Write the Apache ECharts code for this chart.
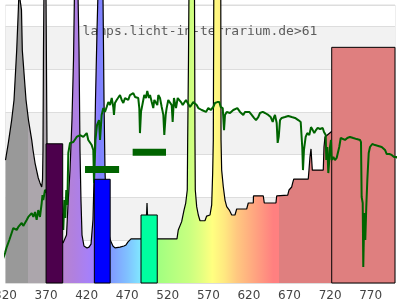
<!DOCTYPE html>
<html><head><meta charset="utf-8">
<script src="https://cdn.jsdelivr.net/npm/echarts@6/dist/echarts.min.js"></script>
<style>html,body{margin:0;padding:0;background:#fff}#c{width:400px;height:300px}</style>
</head><body><div id="c"></div>
<script>
const titleText = 'lamps.licht-in-terrarium.de>61';
const xTicks = [320,370,420,470,520,570,620,670,720,770];

// lamp spectrum (black outline, coloured fill)
const specX = [320,323.5,327.6,330.5,333.8,335.8,336.6,338.7,339.7,340.7,
345.3,348.3,352.3,353.9,356.4,360.4,362.5,364.6,365.6,366.2,
366.8,367.4,369.9,371.1,374.8,381.0,387.2,390.9,393.3,395.2,
397.0,399.5,401.9,403.8,405.0,409.3,410.6,411.8,413.0,414.3,
416.7,420.4,422.9,425.4,427.8,429.7,430.9,432.8,434.0,440.1,
441.4,442.6,443.8,446.3,449.1,450.0,452.4,454.9,461.1,466.0,
468.5,471.0,474.7,492.5,493.8,494.4,495.0,496.8,531.3,532.9,
537.1,540.0,542.1,544.0,544.5,545.5,546.1,552.9,553.5,553.9,
555.6,557.6,559.7,565.8,567.9,572.0,574.1,575.3,576.1,576.7,
585.3,585.6,586.4,588.4,590.5,592.6,595.8,598.8,602.8,604.9,
617.2,619.2,625.4,625.6,637.7,638.9,653.3,654.2,667.8,669.4,
672.7,673.9,675.2,693.1,694.0,695.2,696.5,697.7,698.1,711.6,
712.5,713.7,721.1,732.2,800];
const specY = [57.5,65.5,76.2,85.6,108.9,127.7,136.1,136.1,127.7,108.9,
85.6,76.2,66.9,62.2,56.1,49.1,46.8,44.9,48.2,62.2,
108.9,136.1,136.1,65.5,38.8,27.1,21.0,18.7,19.2,22.4,
36.5,52.8,76.2,104.3,136.1,136.1,108.9,62.2,38.8,22.4,
17.3,16.4,16.8,18.2,29.5,57.5,85.6,118.3,136.1,136.1,
85.6,52.8,38.8,24.8,20.1,19.2,17.3,16.4,16.8,17.3,
17.8,19.2,20.6,20.6,31.8,37.4,31.8,20.6,20.6,24.8,
28.7,34.1,37.4,43.5,66.9,104.3,136.1,136.1,66.9,43.5,
35.7,31.8,29.1,29.1,31.3,31.8,36.5,51.4,66.9,136.1,
136.1,66.9,52.8,45.0,38.8,35.7,34.1,31.8,31.8,34.6,
34.6,37.4,37.4,40.7,40.7,37.4,37.4,40.7,41.1,43.5,
44.9,46.8,48.6,48.6,52.8,58.9,62.7,62.7,52.8,52.8,
63.6,68.3,70.6,73.9,76.2];

// reference (sun) curve, green
const sunX = [313.2,316.5,319.4,321.5,324.7,327.6,329.6,331.7,333.8,335.8,
337.9,340.0,341.9,344.0,346.1,348.1,350.2,352.3,354.3,356.4,
358.4,360.4,362.5,364.6,365.6,366.6,368.7,374.8,382.2,389.6,
391.2,392.5,393.7,394.9,396.2,397.4,399.5,403.6,407.7,411.8,
415.9,420.1,422.0,426.2,428.2,429.1,430.9,432.8,435.2,436.5,
438.5,440.5,442.6,444.7,446.7,448.8,450.9,452.8,453.7,454.9,
457.0,459.0,461.1,463.2,465.2,467.3,469.4,471.3,473.4,475.5,
477.5,479.6,481.7,483.6,484.9,485.7,487.0,489.1,491.0,493.1,
494.7,496.8,498.1,500.2,502.1,503.4,505.5,507.1,508.3,510.4,
512.5,514.5,515.7,517.4,518.6,520.6,522.7,524.8,526.0,527.6,
530.1,532.2,534.2,536.3,538.4,540.3,542.4,544.5,547.4,551.4,
555.6,557.6,559.7,561.8,563.7,567.1,569.9,572.9,576.1,578.2,
581.0,583.5,585.2,587.7,589.3,590.5,592.6,596.7,600.7,602.8,
605.7,609.0,613.0,615.1,617.2,620.4,623.4,626.2,628.7,631.5,
633.6,637.0,639.8,643.8,646.8,649.3,650.9,652.1,654.2,655.4,
656.7,658.3,660.4,662.3,664.4,668.5,672.7,676.8,680.8,683.8,
685.7,686.6,687.8,689.9,691.9,694.4,696.5,698.6,700.5,702.6,
704.7,707.6,710.9,712.5,714.6,715.3,716.6,717.8,719.0,719.9,
721.1,722.0,724.0,726.0,728.1,730.1,731.3,733.1,735.5,738.4,
741.2,744.5,748.6,752.8,756.9,758.1,758.9,760.2,760.9,762.2,
763.4,764.6,765.9,767.6,769.2,772.0,775.4,779.4,783.6,787.7,
789.8,793.0,795.9,798.8,802.1,805.0];
const sunY = [7.0,10.8,14.0,16.8,20.1,23.4,25.7,26.2,24.8,26.2,
27.1,28.1,26.7,28.1,29.5,30.9,31.8,32.7,30.9,33.2,
29.5,34.1,30.9,37.4,41.1,38.8,43.5,41.1,38.8,31.8,
24.8,38.8,30.4,43.5,36.5,60.8,65.5,65.9,68.3,69.2,
68.3,70.1,66.9,64.5,62.2,46.8,66.9,73.9,76.2,66.9,
78.6,81.8,80.0,82.3,84.6,83.2,86.5,82.3,78.6,84.2,
85.6,86.5,87.9,85.6,84.2,86.5,87.0,85.6,87.9,88.4,
88.8,87.0,87.9,86.5,81.8,70.1,80.0,84.2,87.9,86.5,
89.8,86.5,87.9,84.6,81.8,85.6,86.5,83.2,87.9,86.5,
82.3,78.6,69.2,78.6,81.8,85.6,86.5,83.2,75.3,86.5,
81.8,86.5,87.0,84.6,83.2,82.3,85.6,84.2,82.3,84.6,
83.2,81.8,82.3,80.9,81.8,80.0,81.8,80.9,82.3,84.2,
84.6,84.6,82.3,81.8,71.5,78.6,80.0,79.5,80.9,81.8,
81.8,80.0,78.6,80.0,80.4,80.0,78.6,77.2,76.2,77.6,
79.5,80.0,79.5,78.6,77.6,75.3,77.6,78.6,74.8,65.5,
68.3,76.2,77.2,76.7,77.6,78.1,77.6,77.2,76.2,75.3,
63.6,52.8,62.2,68.3,70.1,69.2,72.9,71.5,70.1,71.5,
72.5,72.0,72.5,70.6,69.2,57.5,63.6,51.4,57.5,63.6,
66.9,57.5,58.9,57.5,58.5,58.9,63.6,67.8,66.9,66.9,
67.8,68.3,67.8,67.3,66.9,65.9,40.2,37.4,7.5,32.7,
20.1,35.5,48.2,60.8,63.6,65.0,64.5,64.1,63.6,62.2,
60.3,60.3,59.9,58.9,58.9,57.5];

// band rectangles
const bandFrom = [370, 429.5, 487, 722];
const bandTo   = [390.5, 449, 507, 800];
const bandTop  = [65.1, 48.5, 31.8, 110.2];

// short green markers
const segFrom = [418, 476.7];
const segTo   = [460, 517.8];
const segVal  = [53.1, 61.1];

const X0 = 320, X1 = 800;
const bandColors = ['#4c004c', '#0000ff', '#00ffa0', '#df7f7f'];
const gradSpec = [
  [320,'#999999'],[347.5,'#999999'],[347.6,'#aca6ac'],[370,'#aca6ac'],
  [390,'#b883cf'],[405,'#b080e0'],[420,'#a880f5'],[429,'#a080ff'],
  [436,'#8080ff'],[449,'#8098ff'],[470,'#80c0ff'],[487,'#80e8ff'],
  [507,'#a0ff80'],[530,'#b8ff80'],[546,'#c8ff80'],[560,'#e0ff80'],
  [575,'#ffff80'],[590,'#ffe880'],[605,'#ffc880'],[620,'#ffb080'],
  [640,'#ff9080'],[650,'#ff8080'],[657.5,'#ff8080'],[657.6,'#df7f7f'],[800,'#df7f7f']
];
const gradStops = gradSpec.map(([nm, c]) => ({offset: (nm - X0) / (X1 - X0), color: c}));

const specData = specX.map((x, i) => [x, specY[i]]);
const sunData = sunX.map((x, i) => [x, sunY[i]]);
const bands = bandFrom.map((f, i) => [f, bandTo[i], bandTop[i], i]);
const segs = segFrom.map((f, i) => [f, segTo[i], segVal[i]]);

function bandRender(params, api) {
  const p0 = api.coord([api.value(0), api.value(2)]);
  const p1 = api.coord([api.value(1), 0]);
  return {
    type: 'rect',
    shape: {x: p0[0], y: p0[1], width: p1[0] - p0[0], height: p1[1] - p0[1]},
    style: {fill: bandColors[api.value(3)], stroke: '#000', lineWidth: 1}
  };
}
function segRender(params, api) {
  const p0 = api.coord([api.value(0), api.value(2)]);
  const p1 = api.coord([api.value(1), api.value(2)]);
  return {
    type: 'line',
    shape: {x1: p0[0], y1: p0[1], x2: p1[0], y2: p1[1]},
    style: {stroke: '#006400', lineWidth: 7, lineCap: 'butt'}
  };
}

const chart = echarts.init(document.getElementById('c'), null, {renderer: 'canvas'});
chart.setOption({
  animation: false,
  backgroundColor: '#ffffff',
  title: {
    text: titleText, left: 'center', top: 25, padding: 0, z: 0,
    textStyle: {fontFamily: 'DejaVu Sans Mono', fontSize: 13, fontWeight: 'normal', color: '#5c5c5c'}
  },
  grid: {left: 5.5, right: 5, top: 5, bottom: 17, containLabel: false, outerBoundsMode: 'none',
    show: true, borderColor: '#dddddd', borderWidth: 1, backgroundColor: 'transparent'},
  xAxis: {
    type: 'value', min: X0, max: X1,
    axisLine: {show: false}, axisTick: {show: false}, splitLine: {show: false},
    axisLabel: {customValues: xTicks, color: '#444', fontFamily: 'DejaVu Sans', fontSize: 12, margin: 7}
  },
  yAxis: {
    type: 'value', min: 0, max: 130, interval: 20,
    axisLabel: {show: false}, axisLine: {show: false}, axisTick: {show: false},
    splitLine: {show: true, lineStyle: {color: '#dddddd', width: 1}},
    splitArea: {show: true, areaStyle: {color: ['#ffffff', '#f2f2f2']}}
  },
  series: [
    {
      type: 'line', data: specData, showSymbol: false, symbol: 'none', clip: false, silent: true, z: 2,
      lineStyle: {color: '#000', width: 1.2},
      areaStyle: {color: new echarts.graphic.LinearGradient(0, 0, 1, 0, gradStops), opacity: 1}
    },
    {
      type: 'custom', data: bands.slice(3), renderItem: bandRender, encode: {x: [0, 1], y: 2}, z: 3, silent: true
    },
    {
      type: 'line', data: sunData, showSymbol: false, symbol: 'none', clip: false, silent: true, z: 4,
      lineStyle: {color: '#006400', width: 2}
    },
    {
      type: 'custom', data: bands.slice(0, 3), renderItem: bandRender, encode: {x: [0, 1], y: 2}, z: 5, silent: true
    },
    {
      type: 'custom', data: segs, renderItem: segRender, encode: {x: [0, 1], y: 2}, z: 6, silent: true
    }
  ]
});
</script>
</body></html>
